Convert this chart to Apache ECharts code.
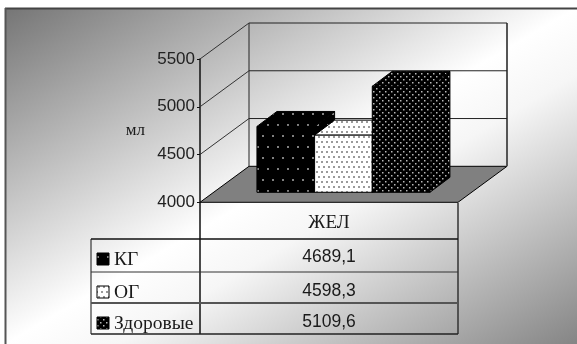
<!DOCTYPE html>
<html>
<head>
<meta charset="utf-8">
<style>html,body{margin:0;padding:0;background:#fff}#c{width:577px;height:344px}</style>
<script src="https://cdn.jsdelivr.net/npm/echarts@6/dist/echarts.min.js"></script>
</head>
<body>
<div id="c"></div>
<script>
// Chart data
const categories = ['ЖЕЛ'];
const seriesNames = ['КГ', 'ОГ', 'Здоровые'];
const valuesKG = [4689.1];
const valuesOG = [4598.3];
const valuesHealthy = [5109.6];
const axisTicks = [4000, 4500, 5000, 5500];
const unitLabel = 'мл';

const seriesValues = [valuesKG, valuesOG, valuesHealthy];

// Depth projection of the 3D box, in pixels
const BOX = { dx: 49, dy: -36 };
const BAR_FRONT = { dx: 13.6, dy: -10 };
const BAR_DEPTH = { dx: 20, dy: -15 };
const BAR_WIDTH_RATIO = 0.2235;
const BAR_LEFT_GAP = 0.168;

// Fill patterns: background colour plus dot grid
function dots(size, bg, fg, r, pts) {
  const cv = document.createElement('canvas');
  cv.width = size[0]; cv.height = size[1];
  const g = cv.getContext('2d');
  g.fillStyle = bg; g.fillRect(0, 0, size[0], size[1]);
  g.fillStyle = fg;
  pts.forEach(p => g.fillRect(p[0], p[1], r, r));
  return { image: cv, repeat: 'repeat' };
}
const patterns = [
  dots([10, 22], '#000', '#808080', 2, [[2, 3], [7, 14]]),
  dots([10, 10], '#fff', '#9a9a9a', 2, [[1, 1], [6, 1], [3, 6], [8, 6]]),
  dots([6, 6], '#000', '#b8b8b8', 1.5, [[1, 1], [4, 4]])
];

function line(a, b, color, width) {
  return { type: 'line', shape: { x1: a[0], y1: a[1], x2: b[0], y2: b[1] },
           style: { stroke: color, lineWidth: width } };
}
function poly(pts, fill) {
  return { type: 'polygon', shape: { points: pts }, style: { fill: fill, stroke: '#000', lineWidth: 1 } };
}
const shift = (p, o) => [p[0] + o.dx, p[1] + o.dy];

// Walls, floor and gridlines of the box
function renderWall(params, api) {
  const v = api.value(1);
  const band = api.size([1, 0])[0];
  const c = api.coord([0, v]);
  const left = [c[0] - band / 2, c[1]];
  const right = [c[0] + band / 2, c[1]];
  const backL = shift(left, BOX), backR = shift(right, BOX);
  const children = [];
  if (params.dataIndex === 0) {
    const top = api.coord([0, axisTicks[axisTicks.length - 1]]);
    const topL = shift([left[0], top[1]], BOX), topR = shift([right[0], top[1]], BOX);
    children.push(poly([left, right, backR, backL], '#808080'));
    children.push(line(backL, topL, '#222', 1));
    children.push(line(backR, topR, '#555', 2));
  } else {
    children.push(line(backL, backR, '#222', 1));
    children.push(line(left, backL, '#333', 1));
  }
  return { type: 'group', children: children };
}

// One 3D bar: front, right side and top faces
function renderBar(params, api) {
  const i = params.seriesIndex - 1;
  const band = api.size([1, 0])[0];
  const top = api.coord([0, api.value(1)]);
  const base = api.coord([0, axisTicks[0]]);
  const w = band * BAR_WIDTH_RATIO;
  const x0 = base[0] - band / 2 + band * BAR_LEFT_GAP + i * w + BAR_FRONT.dx;
  const x1 = x0 + w;
  const yb = base[1] + BAR_FRONT.dy;
  const yt = top[1] + BAR_FRONT.dy;
  const fl = [x0, yt], fr = [x1, yt], br = [x1, yb], bl = [x0, yb];
  const tl = shift(fl, BAR_DEPTH), tr = shift(fr, BAR_DEPTH), dr = shift(br, BAR_DEPTH);
  const fill = patterns[i];
  return { type: 'group', children: [
    poly([fr, tr, dr, br], fill),
    poly([fl, tl, tr, fr], fill),
    poly([fl, fr, br, bl], fill)
  ]};
}

const barSeries = seriesNames.map((name, i) => ({
  name: name,
  type: 'custom',
  z: 5 + i,
  clip: false,
  silent: true,
  renderItem: renderBar,
  encode: { x: 0, y: 1 },
  data: seriesValues[i].map((v, k) => [k, v])
}));

// Data table under the axis
const T = { left: 91, div: 200, right: 458, top: 203, head: 239,
            rows: [239, 272, 303, 334], rowText: [257, 291, 322],
            nameY: [260, 293, 324], iconY: [253, 286, 317] };
const fmt = v => v.toFixed(1).replace('.', ',');
const SERIF = '"Liberation Serif", serif';
const SANS = '"Liberation Sans", sans-serif';
function gLine(x1, y1, x2, y2, color, width) {
  return { type: 'line', z: 20, silent: true, shape: { x1, y1, x2, y2 }, style: { stroke: color, lineWidth: width } };
}
function gText(text, x, y, font, align) {
  return { type: 'text', z: 21, silent: true,
           style: { text, x, y, fill: '#1a1a1a', font, textAlign: align, textVerticalAlign: 'middle' } };
}
const tableParts = [
  gLine(T.div, 202, T.div, T.rows[3], '#111', 1.5),
  gLine(T.right, T.top, T.right, T.rows[3], '#333', 1.5),
  gLine(T.left, T.head, T.left, T.rows[3], '#111', 1),
  gLine(T.left, T.rows[0], T.right, T.rows[0], '#111', 1.5),
  gLine(T.left, T.rows[1], T.right, T.rows[1], '#333', 1),
  gLine(T.left, T.rows[2], T.right, T.rows[2], '#555', 2),
  gLine(T.left, T.rows[3], T.right, T.rows[3], '#222', 1.5),
  gText(categories[0], (T.div + T.right) / 2, 223, '19px ' + SERIF, 'center')
];
seriesNames.forEach((name, i) => {
  tableParts.push({ type: 'rect', z: 21, silent: true,
    shape: { x: 97, y: T.iconY[i], width: 12, height: 12 },
    style: { fill: patterns[i], stroke: '#000', lineWidth: 1 } });
  tableParts.push(gText(name, 114, T.nameY[i], '19.5px ' + SERIF, 'left'));
  tableParts.push(gText(fmt(seriesValues[i][0]), (T.div + T.right) / 2, T.rowText[i], '17.5px ' + SANS, 'center'));
});

const chart = echarts.init(document.getElementById('c'), null, { renderer: 'canvas' });
chart.setOption({
  animation: false,
  backgroundColor: '#fff',
  graphic: [
    { type: 'rect', z: -10, silent: true,
      shape: { x: 6, y: 9, width: 571, height: 335 },
      style: { fill: { type: 'linear', global: true, x: 145, y: -72, x2: 437, y2: 424,
        colorStops: [
          { offset: 0, color: '#767676' },
          { offset: 0.5, color: '#ffffff' },
          { offset: 0.6, color: '#f6f6f6' },
          { offset: 1, color: '#868686' }
        ] } } },
    { type: 'line', z: -9, silent: true, shape: { x1: 5, y1: 8.5, x2: 577, y2: 8.5 }, style: { stroke: '#444', lineWidth: 2 } },
    { type: 'line', z: -9, silent: true, shape: { x1: 5.5, y1: 8, x2: 5.5, y2: 344 }, style: { stroke: '#555', lineWidth: 2 } }
  ].concat(tableParts),
  grid: { left: 200, top: 59, width: 258, height: 143.3 },
  xAxis: { type: 'category', data: categories, show: false },
  yAxis: {
    type: 'value', min: axisTicks[0], max: axisTicks[axisTicks.length - 1], interval: 500,
    name: unitLabel, nameLocation: 'middle', nameRotate: 0, nameGap: 55,
    nameTextStyle: { fontFamily: 'Liberation Serif', fontSize: 17, color: '#1a1a1a', padding: [6, 0, 0, 0] },
    axisLine: { show: true, lineStyle: { color: '#111', width: 1.5 } },
    axisTick: { show: true, length: 3, lineStyle: { color: '#111' } },
    splitLine: { show: false },
    axisLabel: { fontFamily: 'Liberation Sans', fontSize: 17, color: '#222', margin: 5, formatter: v => String(v) }
  },
  series: [{
    type: 'custom', z: 1, clip: false, silent: true,
    renderItem: renderWall, encode: { x: 0, y: 1 },
    data: axisTicks.map(v => [0, v])
  }].concat(barSeries)
});
</script>
</body>
</html>
